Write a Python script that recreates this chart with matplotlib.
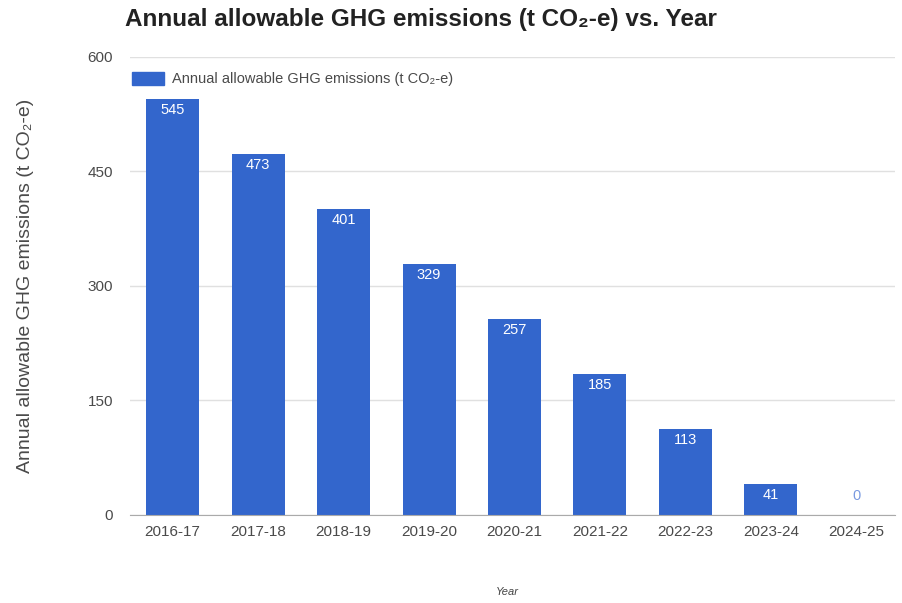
import matplotlib.pyplot as plt
from matplotlib.patches import Patch

plt.rcParams['font.family'] = ['Liberation Sans', 'DejaVu Sans']

years = ["2016-17", "2017-18", "2018-19", "2019-20", "2020-21",
         "2021-22", "2022-23", "2023-24", "2024-25"]
emissions = [545, 473, 401, 329, 257, 185, 113, 41, 0]
y_ticks = [0, 150, 300, 450, 600]

bar_color = "#3366cc"
label = "Annual allowable GHG emissions (t CO\u2082-e)"

fig = plt.figure(figsize=(9.02, 6.03), dpi=100)
ax = fig.add_axes([0.144, 0.146, 0.848, 0.7595])

x = range(len(years))
bars = ax.bar(x, emissions, width=0.62, color=bar_color, zorder=3)

for xi, v in zip(x, emissions):
    if v > 0:
        ax.annotate(str(v), (xi, v), xytext=(0, -8), textcoords="offset points",
                    ha="center", va="center", color="white", fontsize=10.5, zorder=4)
    else:
        ax.annotate(str(v), (xi, v), xytext=(0, 14), textcoords="offset points",
                    ha="center", va="center", color="#7a9ae0", fontsize=10.5, zorder=4)

ax.set_xlim(-0.5, 8.45)
ax.set_ylim(0, 600)
ax.set_yticks(y_ticks)
ax.set_xticks(list(x))
ax.set_xticklabels(years)
ax.tick_params(axis="both", length=0, labelsize=11, colors="#4a4a4a")
ax.tick_params(axis="x", pad=7)
ax.tick_params(axis="y", pad=12)
ax.grid(axis="y", color="#e0e0e0", linewidth=1, zorder=0)
for s in ["top", "right", "left"]:
    ax.spines[s].set_visible(False)
ax.spines["bottom"].set_color("#aaaaaa")
ax.spines["bottom"].set_zorder(5)

ax.set_ylabel(label, fontsize=14, color="#4a4a4a")
ax.yaxis.set_label_coords(-0.126, 0.5)

leg = ax.legend(handles=[Patch(color=bar_color, label=label)], loc="upper left",
                bbox_to_anchor=(-0.014, 0.995), frameon=False, fontsize=10.5,
                handlelength=2.2, handleheight=0.9, handletextpad=0.5,
                labelcolor="#4a4a4a")

fig.text(0.139, 0.968, "Annual allowable GHG emissions (t CO\u2082-e) vs. Year",
         fontsize=17.5, fontweight="bold", color="#222222", va="center")
fig.text(0.562, 0.01, "Year", fontsize=8, style="italic", color="#444444",
         ha="center", va="bottom")

fig.savefig("out.png", dpi=100)
